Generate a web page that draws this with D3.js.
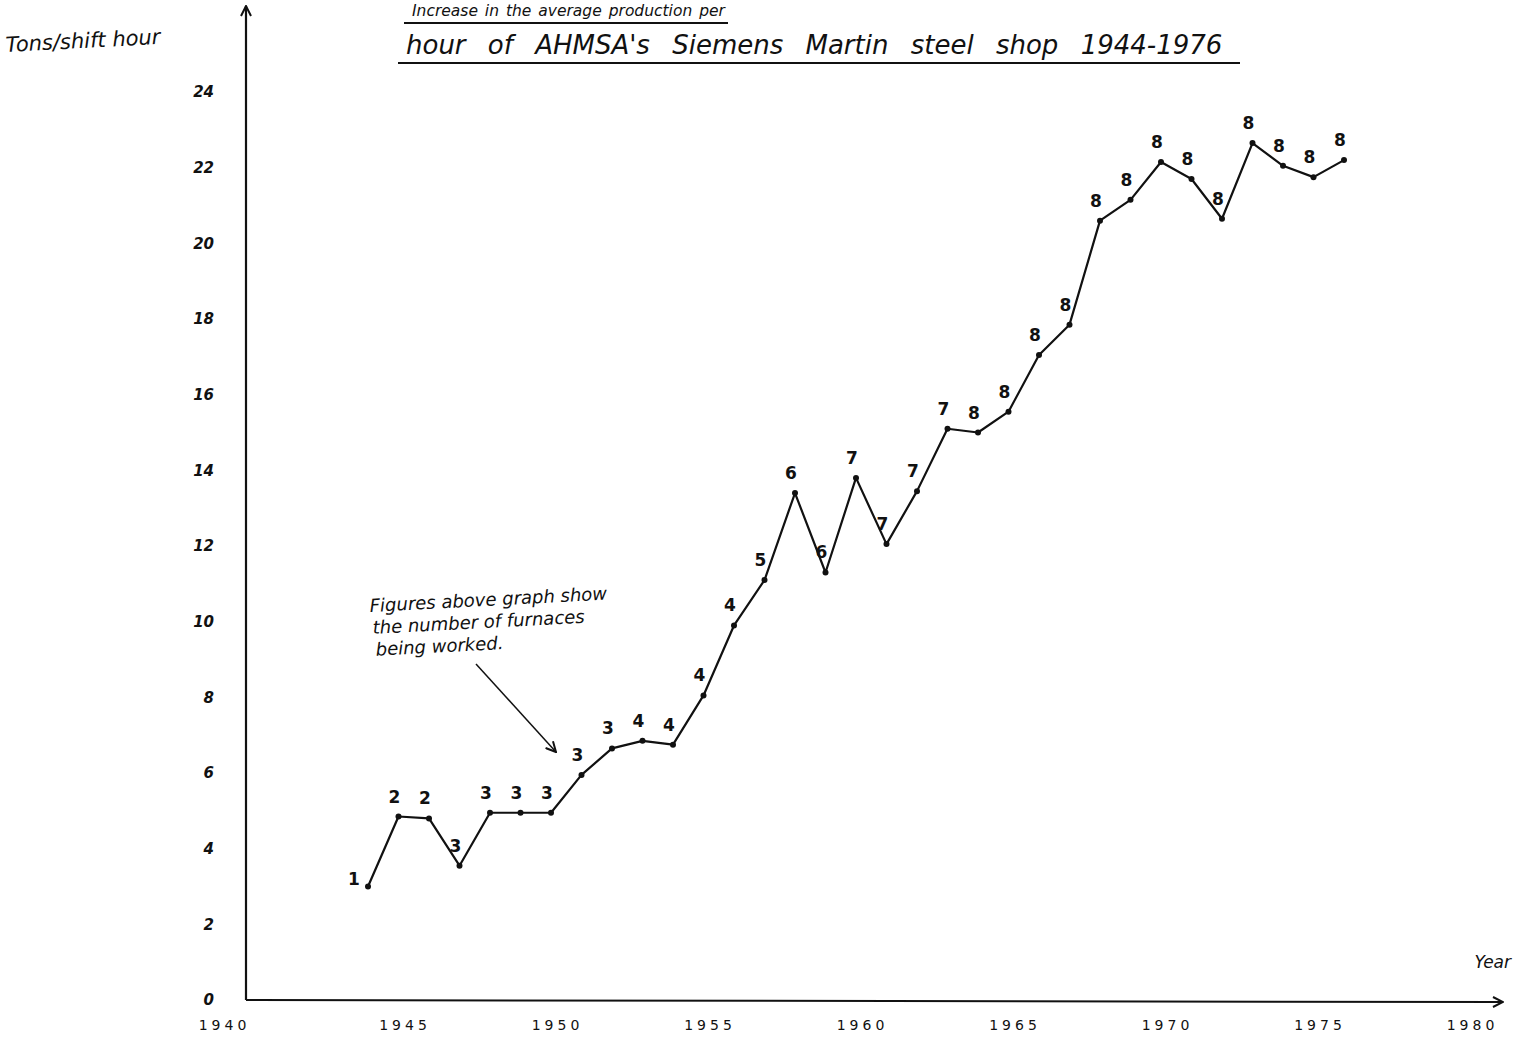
<!DOCTYPE html>
<html>
<head>
<meta charset="utf-8">
<script src="https://cdn.jsdelivr.net/npm/d3@7"></script>
<style>
  body { margin: 0; background: #fff; }
  svg text { fill: #111; }
</style>
</head>
<body>
<div class="canvas"></div>
<script>
// year, tons per shift hour, furnaces worked
const years = [1944, 1945, 1946, 1947, 1948, 1949, 1950, 1951, 1952, 1953, 1954,
    1955, 1956, 1957, 1958, 1959, 1960, 1961, 1962, 1963, 1964, 1965,
    1966, 1967, 1968, 1969, 1970, 1971, 1972, 1973, 1974, 1975, 1976]
const tonsPerShiftHour = [3.0, 4.85, 4.8, 3.55, 4.95, 4.95, 4.95, 5.95, 6.65, 6.85, 6.75,
    8.05, 9.9, 11.1, 13.4, 11.3, 13.8, 12.05, 13.45, 15.1, 15.0, 15.55,
    17.05, 17.85, 20.6, 21.15, 22.15, 21.7, 20.65, 22.65, 22.05, 21.75, 22.2]
const furnaces = [1, 2, 2, 3, 3, 3, 3, 3, 3, 4, 4,
    4, 4, 5, 6, 6, 7, 7, 7, 7, 8, 8,
    8, 8, 8, 8, 8, 8, 8, 8, 8, 8, 8]
const yTicks = [0, 2, 4, 6, 8, 10, 12, 14, 16, 18, 20, 22, 24]
const xTicks = [1940, 1945, 1950, 1955, 1960, 1965, 1970, 1975, 1980]

const titleLines = ["Increase in the average production per",
    "hour of AHMSA's  Siemens Martin steel shop 1944-1976"]
const noteLines = ["Figures above graph show", "the number of furnaces", "being worked."]

const width = 1514
const height = 1038
const hand = "'DejaVu Sans', sans-serif"

const svg = d3.select(".canvas")
    .append("svg")
    .attr("width", width)
    .attr("height", height)

const defs = svg.append("defs")
defs.append("marker")
    .attr("id", "head")
    .attr("viewBox", "0 0 12 12")
    .attr("refX", 11)
    .attr("refY", 6)
    .attr("markerWidth", 12)
    .attr("markerHeight", 12)
    .attr("markerUnits", "userSpaceOnUse")
    .attr("orient", "auto")
    .append("path")
    .attr("d", "M1,1 L11,6 L1,11")
    .attr("fill", "none")
    .attr("stroke", "#111")
    .attr("stroke-width", 2)

const scaleX = d3.scaleLinear()
    .domain([1940, 1980])
    .range([246, 1466])

const scaleY = d3.scaleLinear()
    .domain([0, 24])
    .range([1000, 92])

// axis lines with arrow heads
svg.append("line")
    .attr("x1", scaleX(1940)).attr("y1", scaleY(0))
    .attr("x2", scaleX(1940)).attr("y2", 6)
    .attr("stroke", "#111").attr("stroke-width", 2.2)
    .attr("marker-end", "url(#head)")
svg.append("line")
    .attr("x1", scaleX(1940)).attr("y1", scaleY(0))
    .attr("x2", 1503).attr("y2", scaleY(0) + 2)
    .attr("stroke", "#111").attr("stroke-width", 2)
    .attr("marker-end", "url(#head)")

const yAxis = d3.axisLeft(scaleY)
    .tickValues(yTicks)
    .tickSize(0)
    .tickPadding(32)
    .tickFormat(d3.format("d"))

const xAxis = d3.axisBottom(scaleX)
    .tickValues(xTicks)
    .tickSize(0)
    .tickPadding(20)
    .tickFormat(d => d)

const yAxisGroup = svg.append("g")
    .attr("transform", `translate(${scaleX(1940)}, 0)`)
    .call(yAxis)
yAxisGroup.select(".domain").remove()
yAxisGroup.selectAll("text")
    .attr("font-family", hand)
    .attr("font-size", 15)
    .attr("font-weight", "bold")
    .attr("font-style", "italic")
    .attr("fill", "#111")

const xAxisGroup = svg.append("g")
    .attr("transform", `translate(0, ${scaleY(0)})`)
    .call(xAxis)
xAxisGroup.select(".domain").remove()
xAxisGroup.selectAll("text")
    .attr("font-family", hand)
    .attr("font-size", 14)
    .attr("letter-spacing", 4)
    .attr("fill", "#111")
    .attr("dx", d => d === 1940 ? -22 : 6)

// axis titles
svg.append("text")
    .attr("x", 6).attr("y", 52)
    .attr("font-family", hand).attr("font-style", "italic")
    .attr("font-size", 21)
    .attr("transform", "rotate(-3, 6, 52)")
    .text("Tons/shift hour")

svg.append("text")
    .attr("x", 1511).attr("y", 968)
    .attr("text-anchor", "end")
    .attr("font-family", hand).attr("font-style", "italic")
    .attr("font-size", 17)
    .text("Year")

// title, underlined
const title = svg.append("g")
title.append("text")
    .attr("x", 412).attr("y", 16)
    .attr("font-family", hand).attr("font-style", "italic")
    .attr("font-size", 15.5)
    .attr("word-spacing", 2)
    .text(titleLines[0])
title.append("text")
    .attr("x", 406).attr("y", 54)
    .attr("font-family", hand).attr("font-style", "italic")
    .attr("font-size", 26)
    .attr("word-spacing", 14)
    .text(titleLines[1])
title.append("line")
    .attr("x1", 404).attr("y1", 23).attr("x2", 728).attr("y2", 23)
    .attr("stroke", "#111").attr("stroke-width", 2)
title.append("line")
    .attr("x1", 398).attr("y1", 63).attr("x2", 1240).attr("y2", 63)
    .attr("stroke", "#111").attr("stroke-width", 2)

// the series
const data = years.map((y, i) => ({ year: y, value: tonsPerShiftHour[i], furnaces: furnaces[i] }))

const line = d3.line()
    .x(d => scaleX(d.year))
    .y(d => scaleY(d.value))

svg.append("path")
    .datum(data)
    .attr("d", line)
    .attr("fill", "none")
    .attr("stroke", "#111")
    .attr("stroke-width", 2.2)
    .attr("stroke-linejoin", "round")

svg.selectAll("circle.pt")
    .data(data)
    .enter()
    .append("circle")
    .attr("class", "pt")
    .attr("cx", d => scaleX(d.year))
    .attr("cy", d => scaleY(d.value))
    .attr("r", 3)
    .attr("fill", "#111")

svg.selectAll("text.furn")
    .data(data)
    .enter()
    .append("text")
    .attr("class", "furn")
    .attr("x", d => scaleX(d.year) + (d.year === 1944 ? -14 : -4))
    .attr("y", d => scaleY(d.value) + (d.year === 1944 ? -2 : -14))
    .attr("text-anchor", "middle")
    .attr("font-family", hand)
    .attr("font-size", 17)
    .attr("font-weight", "bold")
    .text(d => d.furnaces)

// note with pointer
const note = svg.append("g")
noteLines.forEach((t, i) => {
    note.append("text")
        .attr("x", 370 + i * 3).attr("y", 612 + i * 22)
        .attr("font-family", hand).attr("font-style", "italic")
        .attr("font-size", 18)
        .attr("transform", `rotate(-3, 370, ${612 + i * 22})`)
        .text(t)
})
note.append("line")
    .attr("x1", 476).attr("y1", 664)
    .attr("x2", 556).attr("y2", 752)
    .attr("stroke", "#111").attr("stroke-width", 1.5)
    .attr("marker-end", "url(#head)")
</script>
</body>
</html>
